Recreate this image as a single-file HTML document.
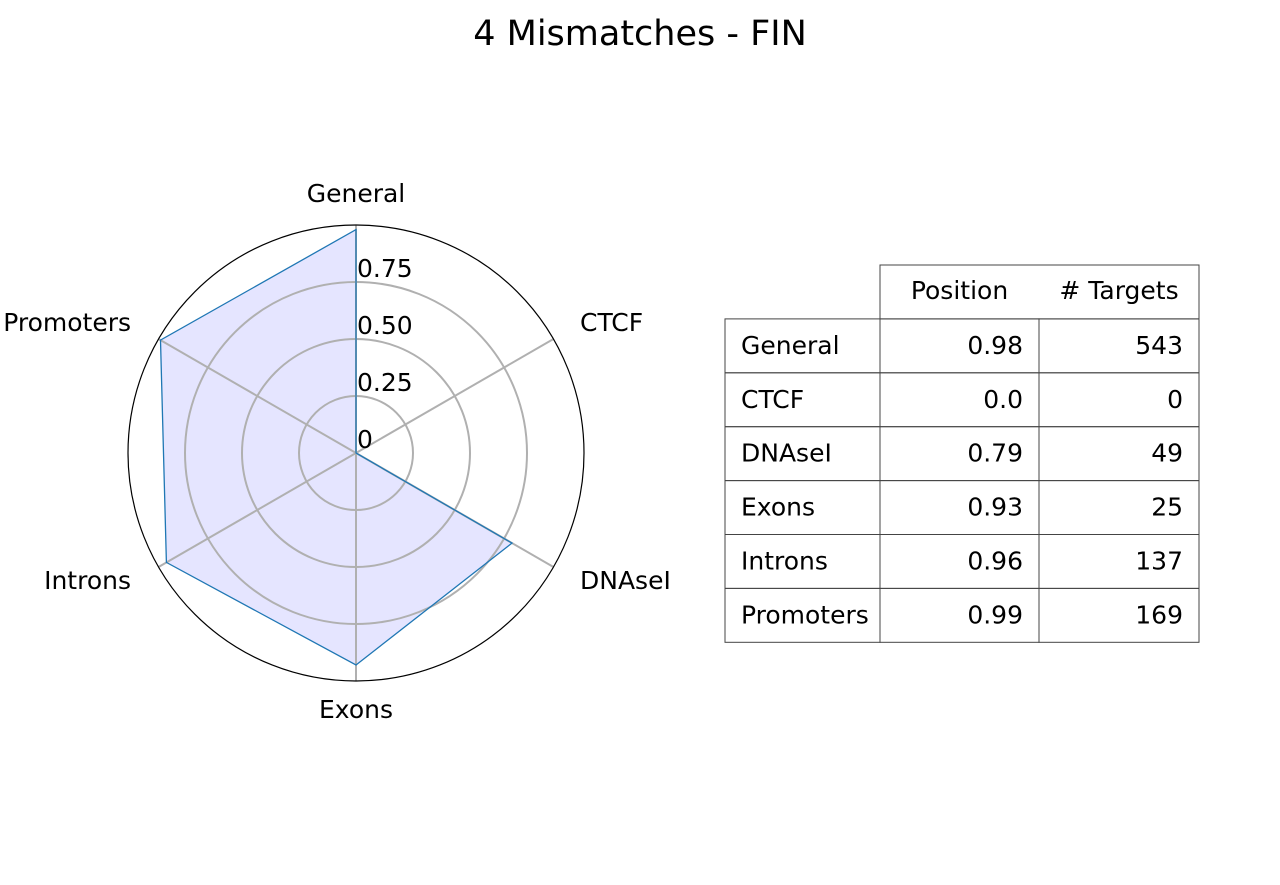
<!DOCTYPE html>
<html><head><meta charset="utf-8">
<style>
body{margin:0;background:#fff;font-family:"Liberation Sans","DejaVu Sans",sans-serif;}
svg text{font-family:"DejaVu Sans","Liberation Sans",sans-serif;}
</style></head>
<body>
<svg id="c" width="1280" height="880" xmlns="http://www.w3.org/2000/svg">
<rect width="1280" height="880" fill="#fff"/>
<text x="640" y="45" font-size="35" text-anchor="middle">4 Mismatches - FIN</text>
<g id="radar"></g>
<g id="tbl"></g>
</svg>
<script>
const categories = ["General","CTCF","DNAseI","Exons","Introns","Promoters"];
const positions = [0.98,0.0,0.79,0.93,0.96,0.99];
const positionLabels = ["0.98","0.0","0.79","0.93","0.96","0.99"];
const targets = [543,0,49,25,137,169];
const ringTicks = [0.25,0.5,0.75];
const tickLabels = ["0","0.25","0.50","0.75"];
const tickValues = [0,0.25,0.5,0.75];

const NS="http://www.w3.org/2000/svg";
const cx=356, cy=453, R=228, FS=25;
function rScale(v){return v*R;}
function ang(i){return (90 - i*360/categories.length)*Math.PI/180;}
function px(i,v){return cx+rScale(v)*Math.cos(ang(i));}
function py(i,v){return cy-rScale(v)*Math.sin(ang(i));}
function mk(tag,attrs,parent){const e=document.createElementNS(NS,tag);for(const k in attrs)e.setAttribute(k,attrs[k]);parent.appendChild(e);return e;}
const g=document.getElementById('radar');

const pts=positions.map((v,i)=>px(i,v).toFixed(1)+','+py(i,v).toFixed(1)).join(' ');
const fillPoly=mk('polygon',{points:pts,fill:'rgba(0,0,255,0.1)',stroke:'none'},g);



ringTicks.forEach((t,i)=>{
  const c=mk('circle',{cx:cx,cy:cy,r:rScale(t),fill:'none',stroke:'#b0b0b0','stroke-width':2},g);
  
  
});
categories.forEach((c,i)=>{
  const l=mk('line',{x1:cx,y1:cy,x2:px(i,1),y2:py(i,1),stroke:'#b0b0b0','stroke-width':2},g);
  
  
});
const outer=mk('circle',{cx:cx,cy:cy,r:R,fill:'none',stroke:'#000','stroke-width':1.2},g);



const poly=mk('polygon',{points:pts,fill:'none',stroke:'#1f77b4','stroke-width':1.3},g);



tickValues.forEach((t,i)=>{
  const tx=mk('text',{x:cx+1,y:cy-rScale(t)-5,'font-size':FS},g);
  tx.textContent=tickLabels[i];
  
  
});
categories.forEach((c,i)=>{
  const a=ang(i);
  let x=cx, y, anchor='middle';
  if(Math.cos(a)>0.1){anchor='start';x=580;y=(Math.sin(a)>0?322:580)+9;}
  else if(Math.cos(a)<-0.1){anchor='end';x=131;y=(Math.sin(a)>0?322:580)+9;}
  else if(Math.sin(a)>0)y=202;
  else y=718;
  const tx=mk('text',{x:x,y:y,'font-size':FS,'text-anchor':anchor},g);
  tx.textContent=c;
  
  
});

// table
const tg=document.getElementById('tbl');
const colX=[725,880,1039,1199], rowY0=265, rh=53.9;
const st={stroke:'#444','stroke-width':1,fill:'none'};
const hr=mk('rect',Object.assign({x:colX[1],y:rowY0,width:colX[3]-colX[1],height:rh},st),tg);


[["Position",1],["# Targets",2]].forEach(([t,k])=>{
  const tx=mk('text',{x:(colX[k]+colX[k+1])/2,y:rowY0+rh/2+7,'font-size':FS,'text-anchor':'middle'},tg);
  tx.textContent=t;
  
  
});
categories.forEach((c,i)=>{
  const y=rowY0+rh*(i+1);
  for(let k=0;k<3;k++){
    const r=mk('rect',Object.assign({x:colX[k],y:y,width:colX[k+1]-colX[k],height:rh},st),tg);
    
    
  }
  const a=mk('text',{x:colX[0]+16,y:y+rh/2+8,'font-size':FS},tg);
  a.textContent=c;
  
  
  const b=mk('text',{x:colX[2]-16,y:y+rh/2+8,'font-size':FS,'text-anchor':'end'},tg);
  b.textContent=positionLabels[i];
  
  
  const d=mk('text',{x:colX[3]-16,y:y+rh/2+8,'font-size':FS,'text-anchor':'end'},tg);
  d.textContent=String(targets[i]);
  
  
});
</script>
</body></html>
